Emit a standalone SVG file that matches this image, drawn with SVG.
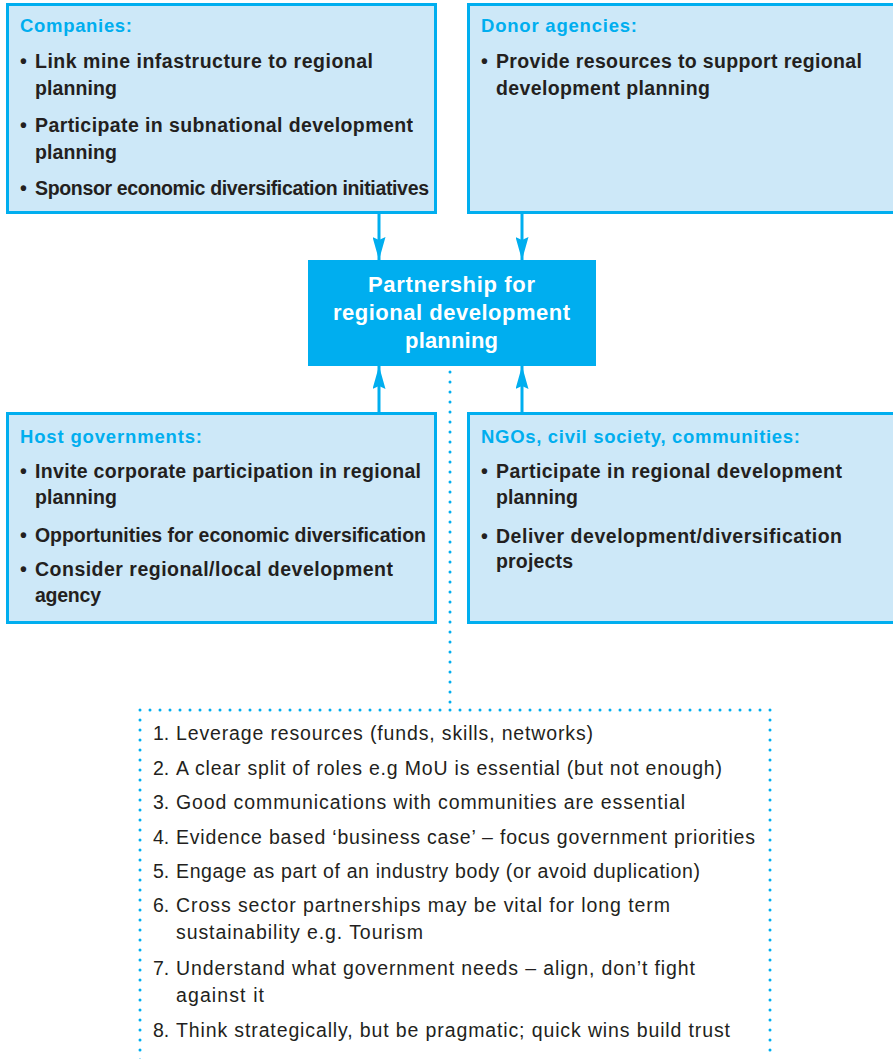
<svg xmlns="http://www.w3.org/2000/svg" width="893" height="1059" viewBox="0 0 893 1059">
  <style>
    .box { fill: #cde8f8; stroke: #00aeef; stroke-width: 3; }
    .hub { fill: #00aeef; }
    .head { font-family: "Liberation Sans", Arial, sans-serif; font-weight: bold; font-size: 18.5px; fill: #00aeef; }
    .item { font-family: "Liberation Sans", Arial, sans-serif; font-weight: bold; font-size: 19.5px; fill: #231f20; }
    .hubtxt { font-family: "Liberation Sans", Arial, sans-serif; font-weight: bold; font-size: 22px; fill: #ffffff; }
    .note { font-family: "Liberation Sans", Arial, sans-serif; font-size: 19.5px; fill: #231f20; }
    .link { stroke: #00aeef; stroke-width: 3; fill: none; }
    .dots { stroke: #00aeef; stroke-width: 3; fill: none; stroke-linecap: round; stroke-dasharray: 0 10; }
  </style>
  <defs>
    <marker id="arrow" viewBox="0 0 23 13" refX="23" refY="6.5" markerWidth="23" markerHeight="13" markerUnits="userSpaceOnUse" orient="auto">
      <path d="M0,0 L23,6.5 L0,13 L3,6.5 Z" fill="#00aeef"/>
    </marker>
  </defs>

  <rect width="893" height="1059" fill="#ffffff"/>

  <!-- arrows into the partnership box and the dotted lead to the lessons list -->
  <g id="connectors">
    <line class="link" x1="379" y1="214" x2="379" y2="260" marker-end="url(#arrow)"/>
    <line class="link" x1="522" y1="214" x2="522" y2="260" marker-end="url(#arrow)"/>
    <line class="link" x1="379" y1="412" x2="379" y2="366" marker-end="url(#arrow)"/>
    <line class="link" x1="522" y1="412" x2="522" y2="366" marker-end="url(#arrow)"/>
    <line class="dots" x1="450" y1="372" x2="450" y2="710"/>
  </g>

  <g id="companies">
    <rect class="box" x="7.5" y="4.5" width="428" height="208"/>
    <text class="head" x="20" y="32" textLength="112">Companies:</text>
    <text class="item" x="20" y="68">•</text>
    <text class="item" x="35" y="68" textLength="338">Link mine infastructure to regional</text>
    <text class="item" x="35" y="95" textLength="82">planning</text>
    <text class="item" x="20" y="132">•</text>
    <text class="item" x="35" y="132" textLength="378">Participate in subnational development</text>
    <text class="item" x="35" y="159" textLength="82">planning</text>
    <text class="item" x="20" y="195">•</text>
    <text class="item" x="35" y="195" textLength="394">Sponsor economic diversification initiatives</text>
  </g>

  <g id="donors">
    <rect class="box" x="468.5" y="4.5" width="428" height="208"/>
    <text class="head" x="481" y="32" textLength="156">Donor agencies:</text>
    <text class="item" x="481" y="68">•</text>
    <text class="item" x="496" y="68" textLength="366">Provide resources to support regional</text>
    <text class="item" x="496" y="95" textLength="214">development planning</text>
  </g>

  <g id="partnership">
    <rect class="hub" x="308" y="260" width="288" height="106"/>
    <text class="hubtxt" x="368" y="292" textLength="167">Partnership for</text>
    <text class="hubtxt" x="333" y="320" textLength="237">regional development</text>
    <text class="hubtxt" x="405" y="348" textLength="93">planning</text>
  </g>

  <g id="governments">
    <rect class="box" x="7.5" y="413.5" width="428" height="209"/>
    <text class="head" x="20" y="443" textLength="182">Host governments:</text>
    <text class="item" x="20" y="478">•</text>
    <text class="item" x="35" y="478" textLength="386">Invite corporate participation in regional</text>
    <text class="item" x="35" y="504" textLength="82">planning</text>
    <text class="item" x="20" y="542">•</text>
    <text class="item" x="35" y="542" textLength="391">Opportunities for economic diversification</text>
    <text class="item" x="20" y="576">•</text>
    <text class="item" x="35" y="576" textLength="358">Consider regional/local development</text>
    <text class="item" x="35" y="602" textLength="66">agency</text>
  </g>

  <g id="ngos">
    <rect class="box" x="468.5" y="413.5" width="428" height="209"/>
    <text class="head" x="481" y="443" textLength="319">NGOs, civil society, communities:</text>
    <text class="item" x="481" y="478">•</text>
    <text class="item" x="496" y="478" textLength="346">Participate in regional development</text>
    <text class="item" x="496" y="504" textLength="82">planning</text>
    <text class="item" x="481" y="543">•</text>
    <text class="item" x="496" y="543" textLength="346">Deliver development/diversification</text>
    <text class="item" x="496" y="568" textLength="77">projects</text>
  </g>

  <g id="lessons">
    <path class="dots" d="M140,1060 L140,710 L770,710 L770,1060"/>
    <text class="note" x="153" y="740">1.</text>
    <text class="note" x="176" y="740" textLength="417">Leverage resources (funds, skills, networks)</text>
    <text class="note" x="153" y="775">2.</text>
    <text class="note" x="176" y="775" textLength="546">A clear split of roles e.g MoU is essential (but not enough)</text>
    <text class="note" x="153" y="809">3.</text>
    <text class="note" x="176" y="809" textLength="509">Good communications with communities are essential</text>
    <text class="note" x="153" y="844">4.</text>
    <text class="note" x="176" y="844" textLength="579">Evidence based ‘business case’ – focus government priorities</text>
    <text class="note" x="153" y="878">5.</text>
    <text class="note" x="176" y="878" textLength="524">Engage as part of an industry body (or avoid duplication)</text>
    <text class="note" x="153" y="912">6.</text>
    <text class="note" x="176" y="912" textLength="494">Cross sector partnerships may be vital for long term</text>
    <text class="note" x="176" y="939" textLength="247">sustainability e.g. Tourism</text>
    <text class="note" x="153" y="975">7.</text>
    <text class="note" x="176" y="975" textLength="519">Understand what government needs – align, don’t fight</text>
    <text class="note" x="176" y="1002" textLength="88">against it</text>
    <text class="note" x="153" y="1037">8.</text>
    <text class="note" x="176" y="1037" textLength="554">Think strategically, but be pragmatic; quick wins build trust</text>
  </g>
</svg>
